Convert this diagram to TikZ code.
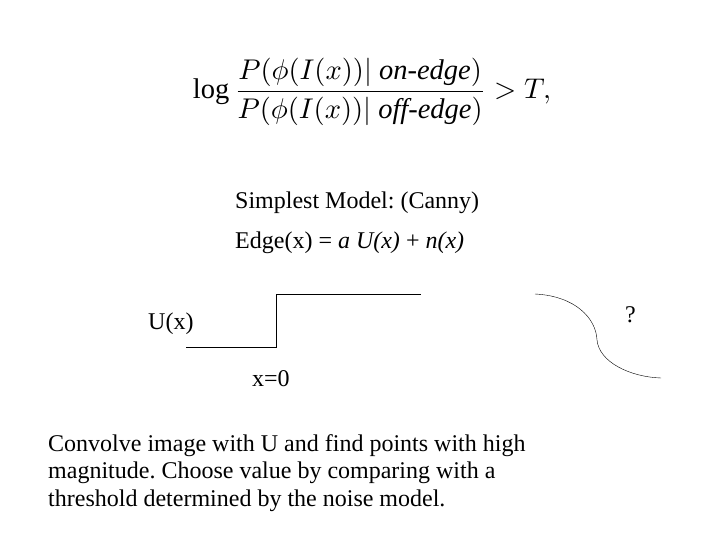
\documentclass[tikz,border=0pt]{standalone}
\usepackage{fontspec}
\setmainfont{Liberation Serif}
\usepackage{amsmath}
\frenchspacing
\tikzset{
  label text/.style={anchor=base west, inner sep=0pt, font=\fontsize{24}{28}\selectfont},
  note text/.style={anchor=base west, inner sep=0pt, align=left,
    font=\fontsize{24}{27.5}\selectfont}
}
\begin{document}
\begin{tikzpicture}[x=1pt,y=-1pt]
  \useasboundingbox (0,0) rectangle (720,540);
  % likelihood ratio test
  \node[inner sep=0pt] (ratio) at (372,92) {\scalebox{2.85}{$\displaystyle \log\frac{P(\phi(I(x))|\ \textit{on-edge})}{P(\phi(I(x))|\ \textit{off-edge})} > T,$}};
  \node[label text] (model) at (235,208) {Simplest Model: (Canny)};
  \node[label text] (edge) at (235,248) {Edge(x) = \textit{a U(x)} + \textit{n(x)}};
  % step edge
  \node[label text] (ux) at (148,329) {U(x)};
  \draw[thick] (186,347) -- (276,347) -- (276,294) -- (421,294);
  \node[label text] (zero) at (252,386) {x=0};
  % smooth edge
  \draw (535,294) .. controls (575,296) and (596,318) .. (597,340)
        .. controls (599,362) and (630,377) .. (661,378);
  \node[label text] (q) at (625,322) {?};
  % baseline of the last line
  \node[note text] (conv) at (48,506) {Convolve image with U and find points with high\\
    magnitude. Choose value by comparing with a\\
    threshold determined by the noise model.};
\end{tikzpicture}
\end{document}
